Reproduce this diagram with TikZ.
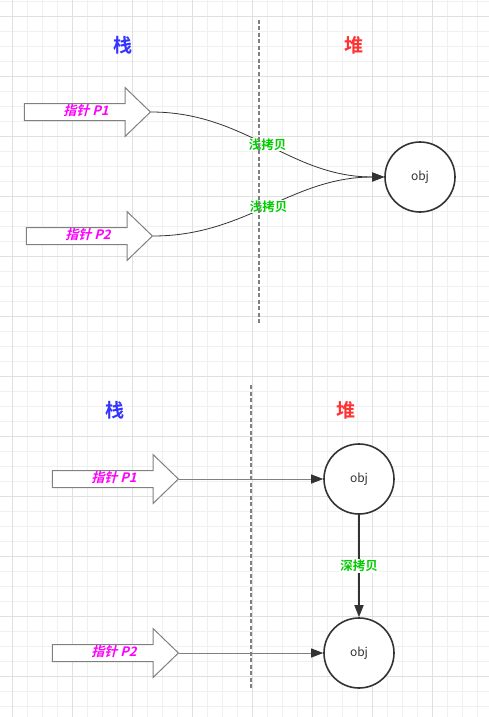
\documentclass[tikz,border=0pt]{standalone}
\usepackage{fontspec}
\setmainfont{Noto Sans CJK SC}[
  BoldFont={Noto Sans CJK SC Bold},
  ItalicFont={Noto Sans CJK SC},
  ItalicFeatures={FakeSlant=0.25},
  BoldItalicFont={Noto Sans CJK SC Bold},
  BoldItalicFeatures={FakeSlant=0.25}]
\usetikzlibrary{arrows.meta,shapes.arrows}
\definecolor{stackblue}{HTML}{3333FF}
\definecolor{heapred}{HTML}{FF3333}
\definecolor{copygreen}{HTML}{00CC00}
\definecolor{ptrpink}{HTML}{FF00FF}
\definecolor{linegray}{HTML}{333333}
\definecolor{midgray}{HTML}{808080}
\definecolor{gridminor}{HTML}{F0F0F0}
\definecolor{gridmajor}{HTML}{E0E0E0}

\begin{document}
\begin{tikzpicture}[x=1pt,y=-1pt,
    ptr node/.style={single arrow,draw=midgray,fill=white,line width=1pt,
      minimum height=126pt,minimum width=48pt,
      single arrow head extend=16pt,single arrow tip angle=88,
      inner xsep=2pt,inner ysep=2.5pt,text height=9pt,text depth=2pt,
      text=ptrpink,font=\fontsize{13}{15}\selectfont\bfseries\itshape},
    obj node/.style={circle,draw=linegray,line width=1.6pt,fill=white,
      minimum size=70pt,inner sep=0pt,text=linegray,
      font=\fontsize{12}{14}\selectfont},
    area label/.style={font=\fontsize{19}{22}\selectfont\bfseries},
    copy label/.style={fill=white,inner sep=1pt,text=copygreen,
      font=\fontsize{12.5}{15}\selectfont\bfseries},
    divider/.style={draw=midgray,line width=1.3pt,dash pattern=on 4pt off 2.5pt},
    link/.style={draw=linegray,line width=0.8pt,
      -{Triangle[length=12pt,width=9pt,color=linegray]}}]
  \fill[white] (0,0) rectangle (489,717);
  \useasboundingbox (0,0) rectangle (489,717);
  % grid
  \foreach \x in {12,27,...,477} \draw[gridminor,line width=0.8pt] (\x,0) -- (\x,717);
  \foreach \y in {1,16,...,706} \draw[gridminor,line width=0.8pt] (0,\y) -- (489,\y);
  \foreach \x in {12,72,...,432} \draw[gridmajor,line width=0.8pt] (\x,0) -- (\x,717);
  \foreach \y in {16,76,...,676} \draw[gridmajor,line width=0.8pt] (0,\y) -- (489,\y);

  %shallow copy%
  \node[area label,text=stackblue] (stack1) at (123,45) {栈};
  \node[area label,text=heapred] (heap1) at (354,45) {堆};
  \coordinate (div1top) at (259,20);
  \coordinate (div1bot) at (259,325);
  \node[ptr node] (p1) at (83,112) {\hspace*{6pt}指针 P1};
  \node[ptr node] (p2) at (85,236) {\hspace*{6pt}指针 P2};
  \node[obj node] (obj) at (420,177) {obj};

  \draw[link] (p1.tip) to[out=0,in=180] node[copy label] {浅拷贝} (obj.west);
  \draw[link] (p2.tip) to[out=0,in=180] node[copy label] {浅拷贝} (obj.west);
  \draw[divider] (div1top) -- (div1bot);

  %deep copy%
  \node[area label,text=stackblue] (stack2) at (115,410) {栈};
  \node[area label,text=heapred] (heap2) at (346,410) {堆};
  \coordinate (div2top) at (251,385);
  \coordinate (div2bot) at (251,690);
  \node[ptr node] (p3) at (111,479) {\hspace*{6pt}指针 P1};
  \node[ptr node] (p4) at (111,653) {\hspace*{6pt}指针 P2};
  \node[obj node] (objA) at (359,479) {obj};
  \node[obj node] (objB) at (359,653) {obj};

  \draw[link,draw=midgray] (p3.tip) -- (objA);
  \draw[link,draw=midgray] (p4.tip) -- (objB);
  \draw[link,line width=1.6pt] (objA) -- node[copy label] {深拷贝} (objB);
  \draw[divider] (div2top) -- (div2bot);
\end{tikzpicture}
\end{document}
